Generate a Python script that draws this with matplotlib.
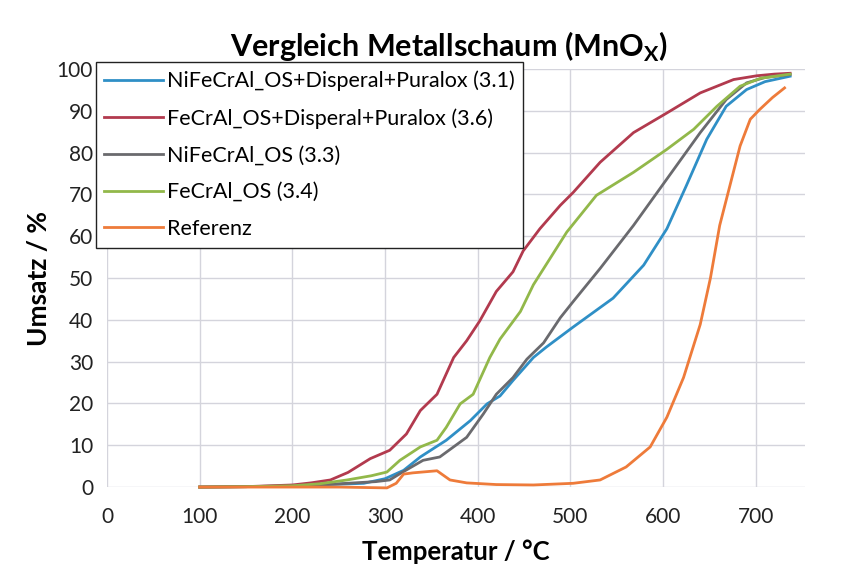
import matplotlib
matplotlib.use("Agg")
import matplotlib.pyplot as plt

plt.rcParams["font.family"] = ["Lato", "DejaVu Sans"]
plt.rcParams["mathtext.fontset"] = "custom"
plt.rcParams["mathtext.rm"] = "Lato"
plt.rcParams["mathtext.bf"] = "Lato:bold"

# series (temperature in degC, conversion in %)
t_ni_dp = [100, 150, 200, 240, 277, 300, 320, 338, 366, 392, 410, 424, 438,
           460, 474, 503, 546, 579, 604, 625, 647, 668, 690, 710, 737]
u_ni_dp = [0, 0.1, 0.3, 0.6, 0.9, 2.0, 4.0, 7.2, 11.2, 15.9, 19.9, 21.8, 25.5,
           31, 33.5, 38.3, 45.2, 53.1, 61.8, 72.1, 83.2, 91.1, 95.1, 97, 98.3]

t_fe_dp = [100, 150, 200, 220, 241, 260, 284, 305, 323, 338, 356, 374, 388,
           402, 420, 438, 449, 467, 489, 503, 532, 568, 604, 640, 676, 701,
           720, 737]
u_fe_dp = [0, 0.1, 0.5, 1.0, 1.7, 3.5, 6.8, 8.8, 12.7, 18.3, 22.2, 31, 35,
           39.7, 46.8, 51.5, 56.5, 61.8, 67.4, 70.5, 77.7, 84.8, 89.5, 94.3,
           97.5, 98.4, 98.8, 99]

t_ni = [100, 150, 200, 230, 259, 290, 305, 316, 341, 359, 388, 406, 420, 438,
        453, 471, 489, 503, 532, 568, 604, 640, 668, 690, 710, 737]
u_ni = [0, 0.1, 0.2, 0.5, 0.9, 1.3, 1.7, 3.2, 6.4, 7.2, 11.9, 17.5, 22.2,
        26.2, 30.6, 34.5, 40.5, 44.4, 52.3, 62.6, 73.7, 84.8, 92.7, 96.7, 98,
        98.7]

t_fe = [100, 150, 200, 230, 259, 285, 302, 316, 338, 356, 366, 381, 395, 413,
        424, 446, 460, 478, 496, 528, 568, 604, 633, 658, 683, 705, 737]
u_fe = [0, 0.1, 0.3, 0.8, 1.7, 2.7, 3.6, 6.4, 9.6, 11.2, 14.3, 19.9, 22.2,
        31, 35.4, 42, 48.4, 54.7, 61, 69.8, 75.3, 80.8, 85.6, 91.1, 95.9,
        97.8, 98.8]

t_ref = [100, 150, 200, 250, 302, 312, 320, 330, 356, 370, 388, 420, 460, 503,
         532, 560, 586, 604, 622, 640, 651, 661, 672, 683, 694, 704, 718, 731]
u_ref = [0, 0, 0, 0, -0.2, 0.9, 3.1, 3.4, 3.9, 1.7, 1.0, 0.6, 0.5, 0.9, 1.7,
         4.8, 9.6, 16.7, 26.2, 38.9, 50, 62.6, 72.1, 81.6, 88, 90.3, 93.2,
         95.5]

labels = ["NiFeCrAl_OS+Disperal+Puralox (3.1)",
          "FeCrAl_OS+Disperal+Puralox (3.6)",
          "NiFeCrAl_OS (3.3)",
          "FeCrAl_OS (3.4)",
          "Referenz"]
colors = ["#2f8fc6", "#b23a4e", "#6a6a6e", "#92b84a", "#ee7b3a"]
series = [(t_ni_dp, u_ni_dp), (t_fe_dp, u_fe_dp), (t_ni, u_ni),
          (t_fe, u_fe), (t_ref, u_ref)]

fig = plt.figure(figsize=(8.46, 5.71), dpi=100)
ax = fig.add_axes([0.1265, 0.147, 0.825, 0.732])

for (t, u), lab, c in zip(series, labels, colors):
    ax.plot(t, u, color=c, lw=2.0, label=lab, clip_on=False)

ax.set_xlim(0, 753)
ax.set_ylim(0, 100)
ax.set_xticks(range(0, 701, 100))
ax.set_yticks(range(0, 101, 10))
ax.grid(True, color="#d4d4dc", lw=1.0)
ax.set_axisbelow(True)
for s in ax.spines.values():
    s.set_visible(False)
ax.tick_params(axis="both", labelsize=15, colors="#222222", length=0, pad=10)
ax.tick_params(axis="x", pad=14)

ax.set_xlabel("Temperatur / °C", fontsize=18.5, fontweight="bold", labelpad=9)
ax.set_ylabel("Umsatz / %", fontsize=19, fontweight="bold", labelpad=4)
ax.set_title(r"Vergleich Metallschaum (MnO$_{\mathbf{X}}$)", fontsize=22,
             fontweight="bold", pad=9, x=0.49)

leg = ax.legend(loc="upper left", bbox_to_anchor=(-0.016, 1.017),
                borderaxespad=0, fontsize=15.5, frameon=True, fancybox=False,
                handlelength=2.7, handletextpad=0.2, labelspacing=0.78,
                borderpad=0.4)
leg.get_frame().set_edgecolor("#222222")
leg.get_frame().set_linewidth(1.0)
leg.get_frame().set_alpha(1.0)

fig.savefig("out.png", dpi=100)
